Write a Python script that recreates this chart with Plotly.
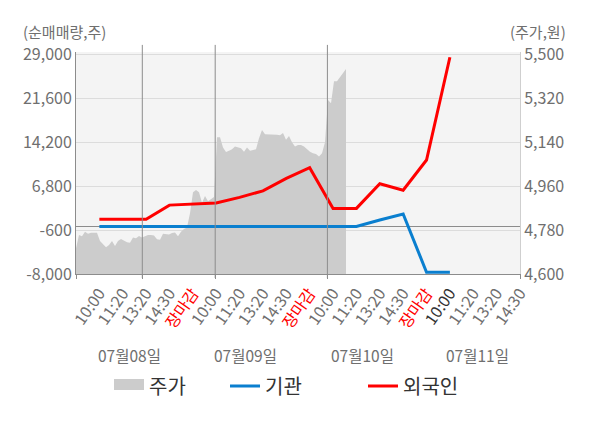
#!/usr/bin/env python3
"""
Net buying of institutions / foreigners against the intraday share price.
Writes out.html
"""

import plotly.graph_objects as go

# ---- data ----------------------------------------------------------------
# intraday price (right axis, won), one sample per step of the hidden price axis
price = [
    4705, 4760, 4755, 4773, 4765, 4769, 4769, 4769, 4735, 4722,
    4710, 4719, 4735, 4715, 4735, 4743, 4737, 4730, 4728, 4750,
    4746, 4756, 4750, 4755, 4760, 4760, 4758, 4742, 4740, 4765,
    4765, 4762, 4768, 4770, 4755, 4773, 4784, 4790, 4849, 4935,
    4944, 4935, 4892, 4920, 4898, 4905, 4915, 5160, 5160, 5118,
    5100, 5105, 5111, 5122, 5118, 5115, 5101, 5118, 5105, 5108,
    5111, 5156, 5190, 5172, 5172, 5169, 5169, 5170, 5168, 5178,
    5150, 5165, 5140, 5122, 5128, 5128, 5122, 5110, 5101, 5095,
    5092, 5081, 5095, 5140, 5313, 5299, 5390, 5390, 5408, 5425,
    5440,
]
price_axis_end = 148            # full width of the price time axis
day_lines = [22.1, 46.4, 83.8]  # day boundaries on the price time axis

# time slots of the net-buying axis
slot_labels = [
    '10:00', '11:20', '13:20', '14:30', '장마감',
    '10:00', '11:20', '13:20', '14:30', '장마감',
    '10:00', '11:20', '13:20', '14:30', '장마감',
    '10:00', '11:20', '13:20', '14:30',
]
dates = ['07월08일', '07월09일', '07월10일', '07월11일']
date_slots = [1.3, 6.27, 11.24, 16.2]

# net buying volume (left axis, shares)
institution = [0, 0, 0, 0, 0, 0, 0, 0, 0, 0, 0, 0, 1100, 2100, -7700, -7700]
foreign = [1200, 1200, 1200, 3600, 3800, 3950, 4900, 6000, 8100, 9900,
           3050, 3050, 7200, 6100, 11200, 28500]

vol_ticks = [-8000, -600, 6800, 14200, 21600, 29000]
price_ticks = [4600, 4780, 4960, 5140, 5320, 5500]

FONT = 'Noto Sans CJK KR'
GRAY_TXT = '#6f6f6f'
AREA = '#cccccc'
BLUE = '#0a7fcf'
RED = '#ff0000'


def tick_text():
    out = []
    for i, lab in enumerate(slot_labels):
        if lab == '장마감':
            out.append(f"<span style='color:{RED}'>{lab}</span>")
        elif i == 15:
            out.append(f"<span style='color:#333333'>{lab}</span>")
        else:
            out.append(lab)
    return out


def build_figure():
    fig = go.Figure()

    # price area on the main subplot (drawn underneath)
    fig.add_trace(go.Scatter(
        x=list(range(len(price))), y=price,
        mode='lines', line=dict(width=0, color=AREA),
        fill='tozeroy', fillcolor=AREA,
        showlegend=False, hoverinfo='skip',
        xaxis='x', yaxis='y',
    ))
    # legend swatch for the price area
    fig.add_trace(go.Scatter(
        x=[None], y=[None], name='주가', mode='lines',
        line=dict(width=10, color=AREA), fill='tozeroy', fillcolor=AREA,
        legend='legend', xaxis='x', yaxis='y',
    ))

    slots = list(range(len(institution)))
    fig.add_trace(go.Scatter(
        x=slots, y=institution, name='기관', mode='lines',
        line=dict(width=3, color=BLUE), legend='legend2',
        xaxis='x2', yaxis='y2',
    ))
    fig.add_trace(go.Scatter(
        x=slots, y=foreign, name='외국인', mode='lines',
        line=dict(width=3, color=RED), legend='legend3',
        xaxis='x2', yaxis='y2',
    ))

    # day separators (they poke out a little above the plot)
    for d in day_lines:
        fig.add_shape(type='line', xref='x', yref='paper',
                      x0=d, x1=d, y0=-0.018, y1=1.032,
                      line=dict(color='#8c8c8c', width=1), layer='above')

    annotations = [
        dict(text='(순매매량,주)', xref='paper', yref='paper', x=-0.025, y=1.092,
             xanchor='center', yanchor='middle', showarrow=False,
             font=dict(size=15, color=GRAY_TXT)),
        dict(text='(주가,원)', xref='paper', yref='paper', x=1.0405, y=1.092,
             xanchor='center', yanchor='middle', showarrow=False,
             font=dict(size=15, color=GRAY_TXT)),
    ]
    for d, s in zip(dates, date_slots):
        annotations.append(dict(
            text=d, xref='x2', yref='paper', x=s, y=-0.365,
            xanchor='center', yanchor='middle', showarrow=False,
            font=dict(size=15.5, color=GRAY_TXT)))

    legend_style = dict(orientation='h', yanchor='middle', y=-0.505, xanchor='left',
                        bgcolor='rgba(0,0,0,0)', borderwidth=0,
                        font=dict(size=20, color='#333333'))

    # the page adds an 8px body margin, so the figure is 8px smaller
    fig.update_layout(
        width=592, height=420,
        margin=dict(l=68, r=80, t=44, b=154),
        paper_bgcolor='white', plot_bgcolor='#f4f4f4',
        font=dict(family=FONT, size=16, color=GRAY_TXT),
        legend=dict(legend_style, x=0.0743),
        legend2=dict(legend_style, x=0.3356),
        legend3=dict(legend_style, x=0.6464),
        annotations=annotations,
        hovermode=False,
        xaxis=dict(
            range=[0, price_axis_end],
            tickvals=[0] + day_lines + [price_axis_end],
            showticklabels=False, ticks='outside', ticklen=4,
            tickcolor='#8c8c8c', showgrid=False, zeroline=False,
            showline=True, linecolor='#8c8c8c', linewidth=1,
        ),
        yaxis=dict(
            side='right', range=[4600, 5509.4],
            tickvals=price_ticks, ticktext=[f'{v:,}' for v in price_ticks],
            showgrid=False, zeroline=False, ticks='',
            showline=True, linecolor='#cfcfcf',
        ),
        xaxis2=dict(
            overlaying='x', anchor='y2', side='bottom', range=[-1, 18],
            tickmode='array', tickvals=list(range(len(slot_labels))),
            ticktext=tick_text(), tickangle=-55,
            tickfont=dict(size=16, color=GRAY_TXT),
            ticklabelstandoff=6,
            showgrid=False, zeroline=False, showline=False, ticks='',
        ),
        yaxis2=dict(
            overlaying='y', side='left', range=[-8000, 29387],
            tickvals=vol_ticks, ticktext=[f'{v:,}' for v in vol_ticks],
            showgrid=True, gridcolor='#dcdcdc', gridwidth=1,
            zeroline=True, zerolinecolor='#8c8c8c', zerolinewidth=1,
            showline=True, linecolor='#8c8c8c', ticks='',
        ),
    )
    return fig


def main():
    fig = build_figure()
    fig.write_html("out.html")


if __name__ == "__main__":
    main()
